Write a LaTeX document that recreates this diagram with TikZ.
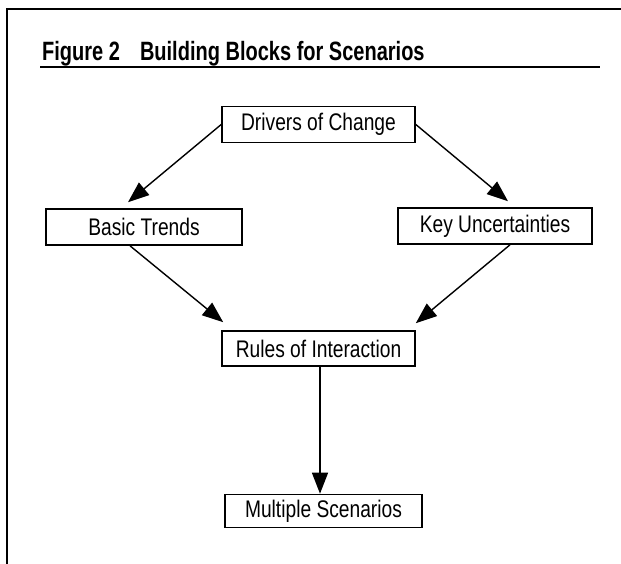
\documentclass[tikz,border=0pt]{standalone}
\usepackage{fontspec}
\setmainfont[FakeStretch=0.8]{Liberation Sans}
\newfontfamily\figtitlefont[FakeStretch=0.755]{Liberation Sans}
\usepackage{tikz}
\usetikzlibrary{arrows.meta}

\begin{document}
\begin{tikzpicture}[x=1pt,y=-1pt]
\useasboundingbox (0,0) rectangle (621,564);

% frame and title
\draw[line width=1.4pt] (621,9) -- (7,9) -- (7,564);
\node[anchor=base west,inner sep=0pt,font=\figtitlefont\bfseries\fontsize{26.5}{30}\selectfont] (title) at (42,61)
    {Figure 2\hspace{20pt}Building Blocks for Scenarios};
\draw[line width=1.2pt] (40,67) -- (600,67);

\begin{scope}[every node/.style={draw,line width=1.6pt,minimum height=36pt,
              inner sep=0pt,font=\fontsize{24}{27}\selectfont}]
    \node[minimum width=193pt] (drivers) at (318.5,124.5) {Drivers of Change};
    \node[minimum width=196pt] (basic)   at (144,227) {Basic Trends};
    \node[minimum width=194pt] (key)     at (495,226) {Key Uncertainties};
    \node[minimum width=193pt,minimum height=35pt] (rules) at (318.5,348.5) {Rules of Interaction};
    \node[minimum width=197pt,minimum height=33pt] (multi) at (323.5,511) {Multiple Scenarios};
\end{scope}

\begin{scope}[>={Triangle[length=21pt,width=16pt]},
              every edge/.style={draw=black,line width=1.4pt}]
    \path [->] (drivers.west) edge ([shift={(-16pt,6pt)}]basic.north);
    \path [->] (drivers.east) edge ([shift={(13pt,6pt)}]key.north);
    \path [->] ([xshift=-14pt]basic.south) edge ([shift={(2pt,8pt)}]rules.north west);
    \path [->] ([xshift=15pt]key.south) edge ([shift={(0pt,7pt)}]rules.north east);
    \path [->] ([xshift=1.5pt]rules.south) edge ([xshift=1.5pt]rules.south |- multi.north);
\end{scope}
\end{tikzpicture}
\end{document}
